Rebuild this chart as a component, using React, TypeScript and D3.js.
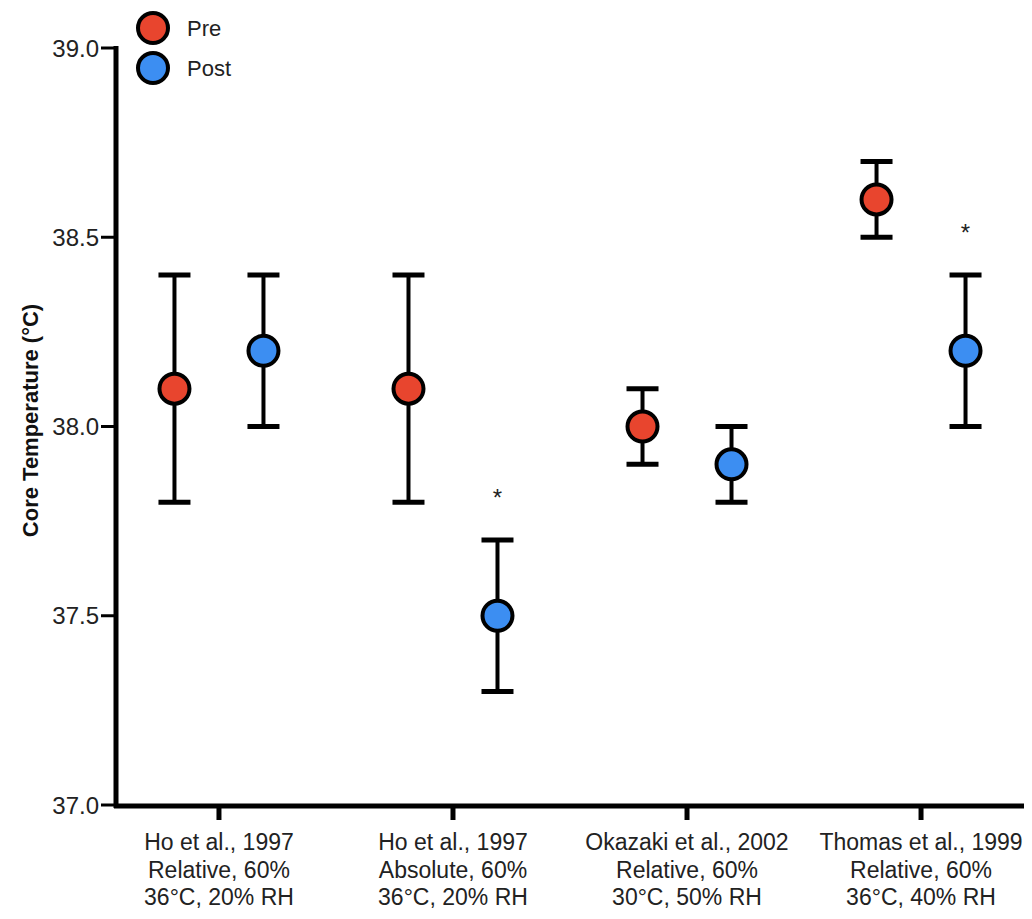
import React from "react";
import * as d3 from "d3";

const categories = [
  ["Ho et al., 1997", "Relative, 60%", "36°C, 20% RH"],
  ["Ho et al., 1997", "Absolute, 60%", "36°C, 20% RH"],
  ["Okazaki et al., 2002", "Relative, 60%", "30°C, 50% RH"],
  ["Thomas et al., 1999", "Relative, 60%", "36°C, 40% RH"],
];
const preMean = [38.1, 38.1, 38.0, 38.6];
const preLow = [37.8, 37.8, 37.9, 38.5];
const preHigh = [38.4, 38.4, 38.1, 38.7];
const postMean = [38.2, 37.5, 37.9, 38.2];
const postLow = [38.0, 37.3, 37.8, 38.0];
const postHigh = [38.4, 37.7, 38.0, 38.4];
const starValues = [null, 37.83, null, 38.53];
const yTicks = [37.0, 37.5, 38.0, 38.5, 39.0];
const seriesNames = ["Pre", "Post"];
const seriesColors = ["#e8452e", "#3c8ef2"];

const W = 1032;
const H = 919;
const FONT = "'Liberation Sans', Arial, sans-serif";

export default function App() {
  const keys = categories.map((_, i) => String(i));
  const x = d3.scalePoint<string>().domain(keys).range([116, 1024]).padding(0.44);
  const y = d3.scaleLinear().domain([37, 39]).range([805, 48]);
  const off = 44.5;
  const capW = 32;
  const r = 15;

  const series = [
    { mean: preMean, low: preLow, high: preHigh, dx: -off, color: seriesColors[0] },
    { mean: postMean, low: postLow, high: postHigh, dx: off, color: seriesColors[1] },
  ];

  return (
    <svg width={W} height={H} style={{ position: "absolute", left: 0, top: 0, background: "#fff" }} fontFamily={FONT}>
      {/* Y axis */}
      <line x1={116} x2={116} y1={y(39) - 2} y2={y(37) + 3} stroke="#000" strokeWidth={5} />
      {yTicks.map((t) => (
        <g key={t}>
          <line x1={101} x2={116} y1={y(t)} y2={y(t)} stroke="#000" strokeWidth={3} />
          <text x={99} y={y(t)} textAnchor="end" dominantBaseline="central" fontSize={24} fill="#222">
            {d3.format(".1f")(t)}
          </text>
        </g>
      ))}
      <text
        transform={`translate(30,${(y(37) + y(39)) / 2 - 6}) rotate(-90)`}
        textAnchor="middle"
        dominantBaseline="central"
        fontSize={22}
        fontWeight="bold"
        fill="#111"
      >
        Core Temperature (°C)
      </text>

      {/* X axis */}
      <line x1={114} x2={1024} y1={806} y2={806} stroke="#000" strokeWidth={5} />
      {keys.map((k, i) => (
        <g key={k}>
          <line x1={x(k)!} x2={x(k)!} y1={806} y2={820} stroke="#000" strokeWidth={5} />
          {categories[i].map((line, j) => (
            <text
              key={j}
              x={x(k)!}
              y={842 + j * 27.5}
              textAnchor="middle"
              dominantBaseline="central"
              fontSize={23}
              fill="#222"
            >
              {line}
            </text>
          ))}
        </g>
      ))}

      {/* Error bars and points */}
      {series.map((s, si) =>
        keys.map((k, i) => {
          const cx = x(k)! + s.dx;
          return (
            <g key={`${si}-${k}`}>
              <line x1={cx} x2={cx} y1={y(s.low[i])} y2={y(s.high[i])} stroke="#000" strokeWidth={4} />
              <line x1={cx - capW / 2} x2={cx + capW / 2} y1={y(s.low[i])} y2={y(s.low[i])} stroke="#000" strokeWidth={5} />
              <line x1={cx - capW / 2} x2={cx + capW / 2} y1={y(s.high[i])} y2={y(s.high[i])} stroke="#000" strokeWidth={5} />
              <circle cx={cx} cy={y(s.mean[i])} r={r} fill={s.color} stroke="#000" strokeWidth={4} />
            </g>
          );
        })
      )}

      {/* Significance markers */}
      {keys.map((k, i) =>
        starValues[i] != null ? (
          <text
            key={`star-${k}`}
            x={x(k)! + off}
            y={y(starValues[i] as number) + 7}
            textAnchor="middle"
            dominantBaseline="central"
            fontSize={24}
            fill="#222"
          >
            *
          </text>
        ) : null
      )}

      {/* Legend */}
      {seriesNames.map((name, i) => (
        <g key={name} transform={`translate(153,${28 + i * 40})`}>
          <circle cx={0} cy={0} r={r} fill={seriesColors[i]} stroke="#000" strokeWidth={4} />
          <text x={34} y={0} dominantBaseline="central" fontSize={22} fill="#222">
            {name}
          </text>
        </g>
      ))}
    </svg>
  );
}
